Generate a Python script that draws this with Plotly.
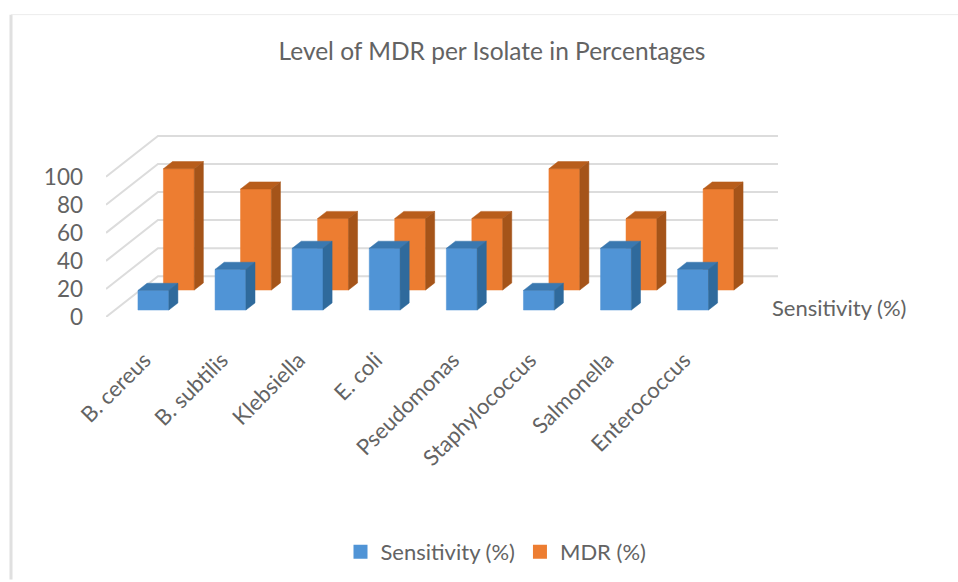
import plotly.graph_objects as go

# ---- data ----
categories = ["B. cereus", "B. subtilis", "Klebsiella", "E. coli", "Pseudomonas",
              "Staphylococcus", "Salmonella", "Enterococcus"]
sensitivity = [14, 29, 44, 44, 44, 14, 44, 29]
mdr = [86.5, 72, 51, 51, 51, 86.5, 51, 72]
y_ticks = [0, 20, 40, 60, 80, 100]
series_names = ["Sensitivity (%)", "MDR (%)"]
title_text = "Level of MDR per Isolate in Percentages"
depth_label = "Sensitivity (%)"

# ---- oblique 3D look: one full unit of depth shifts x and y ----
DEPTH_X = 0.674
DEPTH_Y = 29.1
HALF_W = 0.2
THICK = 0.175
TEXT = "#636363"
FONT = "Lato"
BOTTOM = 318  # pixel row of the plot area's bottom edge


def proj(i, v, t):
    return i + DEPTH_X * t, v + DEPTH_Y * t


def polys(values, t0):
    face, top, side = ([], []), ([], []), ([], [])
    t1 = t0 + THICK

    def add(store, pts):
        for p in pts + [pts[0]]:
            store[0].append(p[0])
            store[1].append(p[1])
        store[0].append(None)
        store[1].append(None)

    for i, v in enumerate(values):
        l, r = i - HALF_W, i + HALF_W
        add(face, [proj(l, 0, t0), proj(r, 0, t0), proj(r, v, t0), proj(l, v, t0)])
        add(top, [proj(l, v, t0), proj(r, v, t0), proj(r, v, t1), proj(l, v, t1)])
        add(side, [proj(r, 0, t0), proj(r, 0, t1), proj(r, v, t1), proj(r, v, t0)])
    return face, top, side


fig = go.Figure()

x_left, x_right = -0.5, 8.216
back_left = x_left + DEPTH_X

# gridlines: slanted side wall plus back wall
gx, gy = [], []
for v in y_ticks:
    gx += [x_left, back_left, x_right, None]
    gy += [v, v + DEPTH_Y, v + DEPTH_Y, None]
fig.add_trace(go.Scatter(x=gx, y=gy, mode="lines", line=dict(color="#dcdcdc", width=2),
                         showlegend=False, hoverinfo="skip"))


def add_series(values, t0, face_c, top_c, side_c):
    face, top, side = polys(values, t0)
    for store, col in ((face, face_c), (top, top_c), (side, side_c)):
        fig.add_trace(go.Scatter(x=store[0], y=store[1], mode="lines", fill="toself",
                                 fillcolor=col, line=dict(color=col, width=0.5),
                                 showlegend=False, hoverinfo="skip"))


add_series(mdr, 0.66, "#ED7D31", "#B85D1B", "#A55419")
add_series(sensitivity, 0.17, "#5094D6", "#3A78B0", "#2F6A9C")

# legend keys
for nm, col in ((series_names[0], "#5094D6"), (series_names[1], "#ED7D31")):
    fig.add_trace(go.Scatter(x=[None], y=[None], mode="markers", name=nm,
                             marker=dict(symbol="square", size=14, color=col)))

fig.update_layout(
    width=958, height=582,
    margin=dict(l=106, r=180, t=BOTTOM - 187, b=582 - BOTTOM, pad=0),
    paper_bgcolor="white", plot_bgcolor="rgba(0,0,0,0)",
    font=dict(family=FONT, color=TEXT, size=20),
    title=dict(text=title_text, x=492 / 958, xanchor="center", y=1 - 51 / 582, yanchor="middle",
               font=dict(size=24.5, color=TEXT, family=FONT)),
    showlegend=True,
    legend=dict(orientation="h", x=(496 - 106) / 672, xanchor="center", y=(BOTTOM - 552) / 187,
                yanchor="middle", font=dict(size=22, color=TEXT), bgcolor="rgba(0,0,0,0)"),
    xaxis=dict(range=[x_left, x_right], tickvals=list(range(len(categories))), ticktext=categories,
               tickangle=-45, showgrid=False, zeroline=False, showline=False,
               ticks="", ticklabelstandoff=25, tickfont=dict(size=22, color=TEXT)),
    yaxis=dict(range=[0, 132.6], tickvals=y_ticks, showgrid=False, zeroline=False, showline=False,
               ticks="", ticklabelstandoff=22, tickfont=dict(size=22.5, color=TEXT)),
    shapes=[
        dict(type="line", xref="paper", yref="paper", x0=-95 / 672, x1=-95 / 672,
             y0=(BOTTOM - 582) / 187, y1=(BOTTOM - 14) / 187, line=dict(color="#e0e0e0", width=3)),
        dict(type="line", xref="paper", yref="paper", x0=-95 / 672, x1=(958 - 106) / 672,
             y0=(BOTTOM - 14) / 187, y1=(BOTTOM - 14) / 187, line=dict(color="#ececec", width=1)),
    ],
    annotations=[dict(text=depth_label, xref="paper", yref="paper", x=(839 - 106) / 672,
                      y=(BOTTOM - 308) / 187, showarrow=False, xanchor="center", yanchor="middle",
                      font=dict(size=22, color=TEXT))],
)

fig.write_html("out.html", config={"displayModeBar": False},
               post_script="document.body.style.margin='0';document.body.style.overflow='hidden';")
